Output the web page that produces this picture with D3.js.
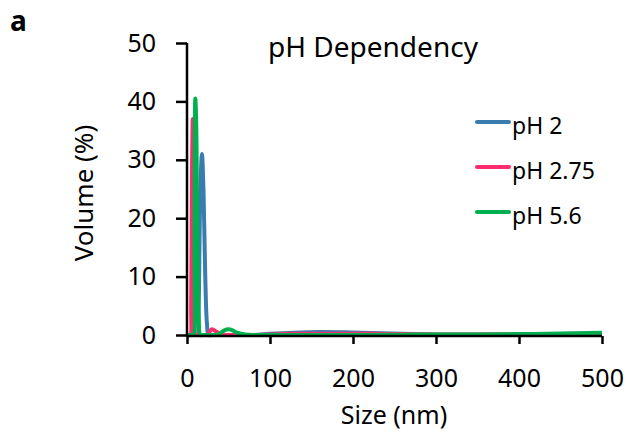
<!DOCTYPE html>
<html>
<head>
<meta charset="utf-8">
<script src="https://cdn.jsdelivr.net/npm/d3@7"></script>
<style>
  body { margin: 0; background: #fff; }
  svg { display: block; font-family: "Noto Sans", sans-serif; }
</style>
</head>
<body>
<svg width="629" height="439"></svg>
<script>
var sizes = [0, 2, 4, 5, 6, 7, 8, 9, 10, 11, 12, 13, 14, 16, 18, 20, 22, 24, 26, 30, 35, 40, 45, 50, 55, 60, 70, 80, 100, 130, 160, 190, 220, 260, 300, 350, 400, 450, 500];

var ph2 = [0, 0, 0, 0, 0, 0, 0, 0, 0, 0, 0, 0, 4, 24, 31, 24, 10, 2, 0, 0, 0, 0, 0, 0, 0, 0, 0, 0, 0.2, 0.4, 0.5, 0.45, 0.35, 0.2, 0.1, 0.1, 0.1, 0.15, 0.25];
var ph275 = [0, 0, 0, 5, 28, 37, 25, 6, 0, 0, 0, 0, 0, 0, 0, 0, 0, 0, 0.3, 1, 0.6, 0.2, 0, 0, 0, 0, 0, 0, 0.1, 0.2, 0.2, 0.2, 0.2, 0.15, 0.1, 0.1, 0.1, 0.15, 0.3];
var ph56 = [0, 0, 0, 0, 0, 0, 0, 15, 40.5, 37, 24, 11, 3, 0, 0, 0, 0, 0, 0, 0, 0, 0.3, 0.8, 1, 0.8, 0.4, 0.1, 0, 0, 0, 0, 0, 0, 0.05, 0.1, 0.1, 0.15, 0.25, 0.4];

var seriesNames = ['pH 2', 'pH 2.75', 'pH 5.6'];
var seriesColors = ['#3a7bb0', '#ff2d6e', '#00b050'];
var yTicks = [0, 10, 20, 30, 40, 50];
var xTicks = [0, 100, 200, 300, 400, 500];

var svg = d3.select('svg');

var x = d3.scaleLinear().domain([0, 500]).range([187, 602]);
var y = d3.scaleLinear().domain([0, 50]).range([335, 43]);

var line = d3.line()
	.x(function(d) { return x(d[0]); })
	.y(function(d) { return y(d[1]); })
	.curve(d3.curveCatmullRom.alpha(0.5));

// series, drawn in the same order as the legend so green ends on top
[ph2, ph275, ph56].forEach(function(vals, i) {
	svg.append('path')
		.datum(sizes.map(function(s, j) { return [s, vals[j]]; }))
		.attr('fill', 'none')
		.attr('stroke', seriesColors[i])
		.attr('stroke-width', 4)
		.attr('stroke-linejoin', 'round')
		.attr('d', line);
});

// axes
var yAxis = svg.append('g')
	.attr('transform', 'translate(187,0)')
	.call(d3.axisLeft(y).tickValues(yTicks).tickSize(11).tickPadding(20));
var xAxis = svg.append('g')
	.attr('transform', 'translate(0,336)')
	.call(d3.axisBottom(x).tickValues(xTicks).tickSize(8).tickPadding(25));

[yAxis, xAxis].forEach(function(ax) {
	ax.select('.domain').attr('stroke', '#000').attr('stroke-width', 2.5);
	ax.selectAll('.tick line').attr('stroke', '#000').attr('stroke-width', 2.5);
	ax.selectAll('.tick text')
		.attr('fill', '#000')
		.style('font-family', '"Noto Sans", sans-serif')
		.style('font-size', '25px');
});
yAxis.select('.domain').attr('d', 'M0,335V43');
xAxis.select('.domain').attr('d', 'M187,0H602');

// texts
svg.append('text')
	.attr('x', 10).attr('y', 31)
	.style('font-size', '28px').style('font-weight', 'bold')
	.text('a');

svg.append('text')
	.attr('x', 373).attr('y', 57)
	.attr('text-anchor', 'middle')
	.style('font-size', '28px')
	.text('pH Dependency');

svg.append('text')
	.attr('transform', 'translate(93,193) rotate(-90)')
	.attr('text-anchor', 'middle')
	.style('font-size', '26px')
	.text('Volume (%)');

svg.append('text')
	.attr('x', 394).attr('y', 424)
	.attr('text-anchor', 'middle')
	.style('font-size', '25px')
	.text('Size (nm)');

// legend
var legend = svg.append('g');
seriesNames.forEach(function(name, i) {
	var ly = 122 + i * 45;
	legend.append('line')
		.attr('x1', 477).attr('x2', 509)
		.attr('y1', ly).attr('y2', ly)
		.attr('stroke', seriesColors[i])
		.attr('stroke-width', 4)
		.attr('stroke-linecap', 'round');
	legend.append('text')
		.attr('x', 512).attr('y', ly + 12)
		.style('font-size', '23px')
		.text(name);
});
</script>
</body>
</html>
